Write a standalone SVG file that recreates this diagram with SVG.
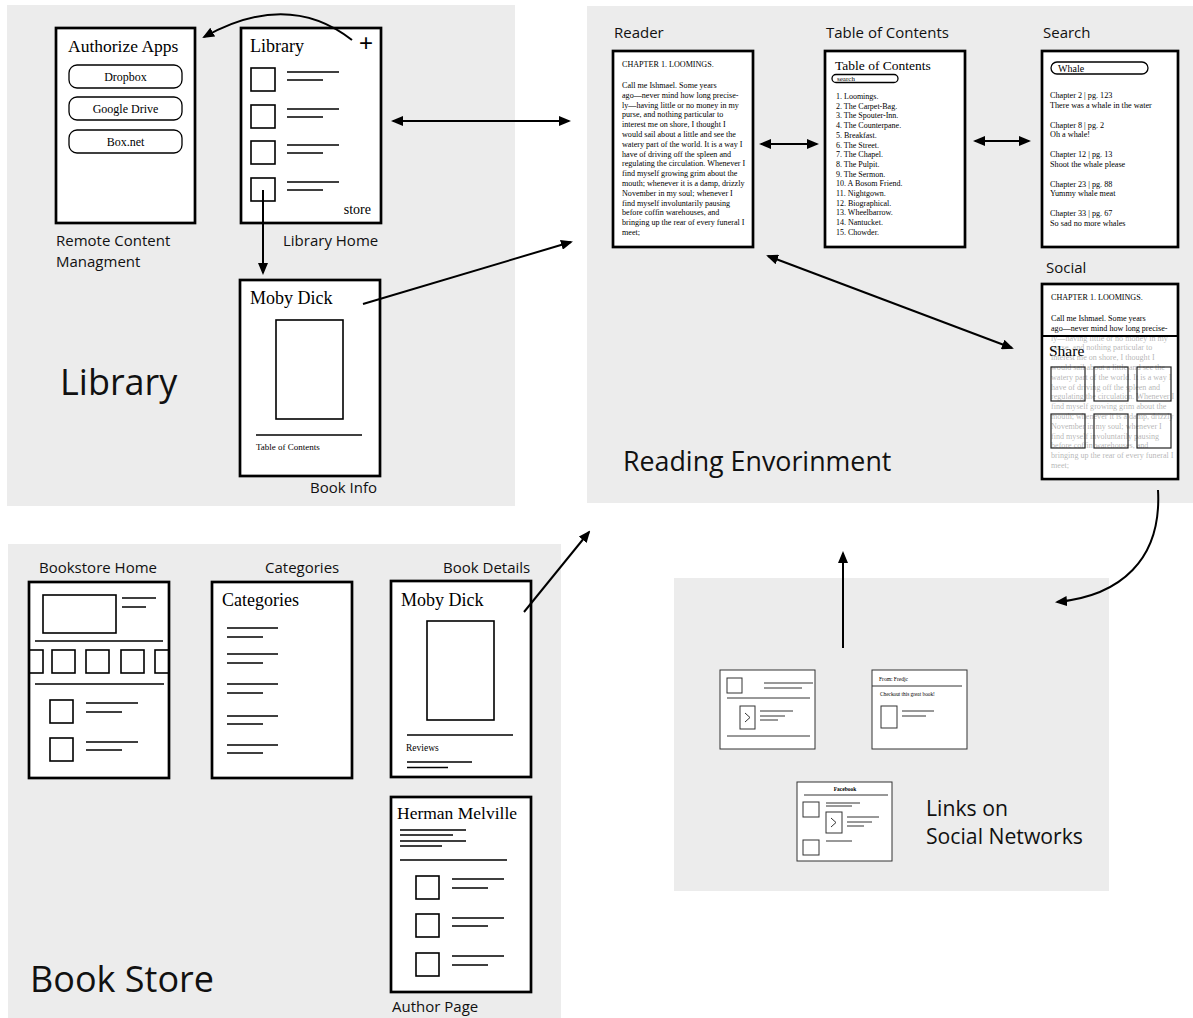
<svg xmlns="http://www.w3.org/2000/svg" xmlns:xlink="http://www.w3.org/1999/xlink" width="1193" height="1018" viewBox="0 0 1193 1018">
<style>
.panel{fill:#ececec}
.box{fill:#fff;stroke:#000;stroke-width:2.7}
.ln{stroke:#000;stroke-width:1.6;fill:none}
.sq{fill:none;stroke:#000;stroke-width:1.6}
.card{fill:#fff;stroke:#333;stroke-width:1}
.cl{stroke:#333;stroke-width:1;fill:none}
.pill{fill:#fff;stroke:#000;stroke-width:1.3}
.lbl{font-family:"Open Sans","Noto Sans",sans-serif;font-size:15px;fill:#111}
.big{font-family:"Open Sans","Noto Sans",sans-serif;fill:#111}
.sf{font-family:"Liberation Serif",serif;fill:#000}
.conn{stroke:#000;stroke-width:2;fill:none}
</style>
<defs>
<marker id="ah" markerWidth="12" markerHeight="10" refX="10" refY="5" orient="auto-start-reverse" markerUnits="userSpaceOnUse">
<path d="M0,0 L12,5 L0,10 z" fill="#000"/>
</marker>
<g id="para" class="sf" font-size="8.1">
<text x="0" y="0">CHAPTER 1. LOOMINGS.</text>
<text x="0" y="21">Call me Ishmael. Some years</text>
<text x="0" y="30.8">ago—never mind how long precise-</text>
<text x="0" y="40.6">ly—having little or no money in my</text>
<text x="0" y="50.4">purse, and nothing particular to</text>
<text x="0" y="60.2">interest me on shore, I thought I</text>
<text x="0" y="70">would sail about a little and see the</text>
<text x="0" y="79.8">watery part of the world. It is a way I</text>
<text x="0" y="89.6">have of driving off the spleen and</text>
<text x="0" y="99.4">regulating the circulation. Whenever I</text>
<text x="0" y="109.2">find myself growing grim about the</text>
<text x="0" y="119">mouth; whenever it is a damp, drizzly</text>
<text x="0" y="128.8">November in my soul; whenever I</text>
<text x="0" y="138.6">find myself involuntarily pausing</text>
<text x="0" y="148.4">before coffin warehouses, and</text>
<text x="0" y="158.2">bringing up the rear of every funeral I</text>
<text x="0" y="168">meet;</text>
</g>
</defs>

<rect width="1193" height="1018" fill="#fff"/>

<!-- panels -->
<g id="panel-library"><rect class="panel" x="7" y="5" width="508" height="501"/>
<text class="big" x="60" y="395" font-size="36">Library</text></g>
<g id="panel-reading"><rect class="panel" x="587" y="6" width="606" height="497"/>
<text class="big" x="623" y="471" font-size="26.8">Reading Envorinment</text></g>
<g id="panel-bookstore"><rect class="panel" x="8" y="544" width="553" height="474"/>
<text class="big" x="30" y="992" font-size="36">Book Store</text></g>
<g id="panel-social"><rect class="panel" x="674" y="578" width="435" height="313"/>
<text class="big" x="926" y="816" font-size="21.2">Links on</text>
<text class="big" x="926" y="844" font-size="21.2">Social Networks</text></g>

<!-- Authorize Apps -->
<g id="authorize-apps">
<rect class="box" x="56" y="28" width="139" height="195"/>
<text class="sf" x="68" y="52" font-size="17.5">Authorize Apps</text>
<rect class="pill" x="69" y="65" width="113" height="23" rx="8"/>
<text class="sf" x="125.5" y="81" font-size="12" text-anchor="middle">Dropbox</text>
<rect class="pill" x="69" y="97" width="113" height="23" rx="8"/>
<text class="sf" x="125.5" y="113" font-size="12" text-anchor="middle">Google Drive</text>
<rect class="pill" x="69" y="130" width="113" height="23" rx="8"/>
<text class="sf" x="125.5" y="146" font-size="12" text-anchor="middle">Box.net</text>
<text class="lbl" x="56" y="246">Remote Content</text>
<text class="lbl" x="56" y="267">Managment</text>
</g>

<!-- Library Home -->
<g id="library-home">
<rect class="box" x="241" y="28" width="140" height="195"/>
<text class="sf" x="250" y="52" font-size="18">Library</text>
<text x="366" y="51" font-family="Liberation Sans,sans-serif" font-size="24" text-anchor="middle">+</text>
<rect class="sq" x="251" y="68" width="24" height="23"/>
<path class="ln" d="M287,72H339M287,80H323"/>
<rect class="sq" x="251" y="105" width="24" height="23"/>
<path class="ln" d="M287,109H339M287,117H323"/>
<rect class="sq" x="251" y="141" width="24" height="23"/>
<path class="ln" d="M287,145H339M287,153H323"/>
<rect class="sq" x="251" y="178" width="24" height="23"/>
<path class="ln" d="M287,182H339M287,190H323"/>
<text class="sf" x="371" y="214" font-size="14" text-anchor="end">store</text>
<text class="lbl" x="283" y="246">Library Home</text>
</g>

<!-- Book Info -->
<g id="book-info">
<rect class="box" x="240" y="280" width="140" height="196"/>
<text class="sf" x="250" y="304" font-size="18">Moby Dick</text>
<rect class="sq" x="276" y="320" width="67" height="99"/>
<path class="ln" d="M256,435H362"/>
<text class="sf" x="256" y="450" font-size="9">Table of Contents</text>
<text class="lbl" x="310" y="493">Book Info</text>
</g>

<!-- Reader -->
<g id="reader">
<text class="lbl" x="614" y="38">Reader</text>
<rect class="box" x="613" y="51" width="140" height="196"/>
<use xlink:href="#para" x="622" y="67"/>
</g>

<!-- TOC -->
<g id="toc">
<text class="lbl" x="826" y="38">Table of Contents</text>
<rect class="box" x="825" y="51" width="140" height="196"/>
<text class="sf" x="835" y="70" font-size="13.5">Table of Contents</text>
<rect class="pill" x="832" y="74.5" width="66" height="8" rx="4"/>
<text class="sf" x="837" y="81" font-size="7">search</text>
<g class="sf" font-size="8">
<text x="836" y="99">1. Loomings.</text>
<text x="836" y="108.7">2. The Carpet-Bag.</text>
<text x="836" y="118.4">3. The Spouter-Inn.</text>
<text x="836" y="128.1">4. The Counterpane.</text>
<text x="836" y="137.8">5. Breakfast.</text>
<text x="836" y="147.5">6. The Street.</text>
<text x="836" y="157.2">7. The Chapel.</text>
<text x="836" y="166.9">8. The Pulpit.</text>
<text x="836" y="176.6">9. The Sermon.</text>
<text x="836" y="186.3">10. A Bosom Friend.</text>
<text x="836" y="196">11. Nightgown.</text>
<text x="836" y="205.7">12. Biographical.</text>
<text x="836" y="215.4">13. Wheelbarrow.</text>
<text x="836" y="225.1">14. Nantucket.</text>
<text x="836" y="234.8">15. Chowder.</text>
</g>
</g>

<!-- Search -->
<g id="search">
<text class="lbl" x="1043" y="38">Search</text>
<rect class="box" x="1042" y="51" width="136" height="196"/>
<rect class="pill" x="1051" y="62" width="97" height="12" rx="6"/>
<text class="sf" x="1058" y="72" font-size="10">Whale</text>
<g class="sf" font-size="8.2">
<text x="1050" y="98">Chapter 2 | pg. 123</text>
<text x="1050" y="107.5">There was a whale in the water</text>
<text x="1050" y="127.5">Chapter 8 | pg. 2</text>
<text x="1050" y="137">Oh a whale!</text>
<text x="1050" y="157">Chapter 12 | pg. 13</text>
<text x="1050" y="166.5">Shoot the whale please</text>
<text x="1050" y="186.5">Chapter 23 | pg. 88</text>
<text x="1050" y="196">Yummy whale meat</text>
<text x="1050" y="216">Chapter 33 | pg. 67</text>
<text x="1050" y="225.5">So sad no more whales</text>
</g>
</g>

<!-- Social -->
<g id="social">
<text class="lbl" x="1046" y="273">Social</text>
<rect class="box" x="1042" y="284" width="136" height="195"/>
<use xlink:href="#para" x="1051" y="300"/>
<rect x="1043.5" y="337" width="133" height="140.5" fill="#fff" fill-opacity="0.7"/>
<path d="M1042,336H1178" stroke="#000" stroke-width="2"/>
<text class="sf" x="1049" y="356" font-size="15.5">Share</text>
<g fill="none" stroke="#222" stroke-width="1.2">
<rect x="1051" y="367" width="34" height="34"/>
<rect x="1094" y="367" width="34" height="34"/>
<rect x="1137" y="367" width="34" height="34"/>
<rect x="1051" y="414" width="34" height="34"/>
<rect x="1094" y="414" width="34" height="34"/>
<rect x="1137" y="414" width="34" height="34"/>
</g>
</g>

<!-- Bookstore Home -->
<g id="bookstore-home">
<text class="lbl" x="39" y="573">Bookstore Home</text>
<rect class="box" x="29" y="582" width="140" height="196"/>
<rect class="sq" x="43" y="595" width="73" height="38"/>
<path class="ln" d="M122,598H156M122,607H146M35,641H163M35,684H164"/>
<rect class="sq" x="29" y="650" width="14" height="23"/>
<rect class="sq" x="52" y="650" width="23" height="23"/>
<rect class="sq" x="86" y="650" width="23" height="23"/>
<rect class="sq" x="121" y="650" width="23" height="23"/>
<rect class="sq" x="155" y="650" width="14" height="23"/>
<rect class="sq" x="50" y="700" width="23" height="23"/>
<path class="ln" d="M86,703H138M86,712H122"/>
<rect class="sq" x="50" y="738" width="23" height="23"/>
<path class="ln" d="M86,742H138M86,750H122"/>
</g>

<!-- Categories -->
<g id="categories">
<text class="lbl" x="265" y="573">Categories</text>
<rect class="box" x="212" y="582" width="140" height="196"/>
<text class="sf" x="222" y="606" font-size="18">Categories</text>
<path class="ln" d="M227,628H278M227,637H263M227,654H278M227,663H263M227,684H278M227,693H263M227,716H278M227,724H263M227,745H278M227,753H263"/>
</g>

<!-- Book Details -->
<g id="book-details">
<text class="lbl" x="443" y="573">Book Details</text>
<rect class="box" x="391" y="581" width="140" height="196"/>
<text class="sf" x="401" y="606" font-size="18">Moby Dick</text>
<rect class="sq" x="427" y="621" width="67" height="99"/>
<path class="ln" d="M407,735H513"/>
<text class="sf" x="406" y="751" font-size="9.5">Reviews</text>
<path class="ln" d="M407,762H472M407,767.5H448"/>
</g>

<!-- Author Page -->
<g id="author-page">
<rect class="box" x="391" y="797" width="140" height="195"/>
<text class="sf" x="397" y="819" font-size="17.5">Herman Melville</text>
<path class="ln" d="M400,830H466M400,835H453M400,841H466M400,846H442M400,860H507"/>
<rect class="sq" x="416" y="876" width="23" height="23"/>
<path class="ln" d="M452,879H504M452,888H488"/>
<rect class="sq" x="416" y="914" width="23" height="23"/>
<path class="ln" d="M452,918H504M452,926H488"/>
<rect class="sq" x="416" y="953" width="23" height="23"/>
<path class="ln" d="M452,956H504M452,965H488"/>
<text class="lbl" x="392" y="1012">Author Page</text>
</g>

<!-- Social network cards -->
<g id="card-1">
<rect class="card" x="720" y="670" width="95" height="79"/>
<rect class="cl" x="727" y="678" width="15" height="15"/>
<path class="cl" d="M764,683H813M764,688H802M727,698H810"/>
<rect class="cl" x="740" y="706" width="15" height="23"/>
<path class="cl" d="M745,713L750,717.5L745,722"/>
<path class="cl" d="M760,711H793M760,716H785M760,720H778M727,736H810"/>
</g>
<g id="card-2">
<rect class="card" x="872" y="670" width="95" height="79"/>
<text class="sf" x="879" y="681" font-size="5.5">From: Fredjc</text>
<path class="cl" d="M872,686H962"/>
<text class="sf" x="880" y="695.5" font-size="5.3">Checkout this great book!</text>
<rect class="cl" x="881" y="706" width="16" height="22"/>
<path class="cl" d="M902,711H934M902,716H926"/>
</g>
<g id="card-3">
<rect class="card" x="797" y="782" width="95" height="79"/>
<text class="sf" x="845" y="791" font-size="5.5" font-weight="bold" text-anchor="middle">Facebook</text>
<path class="cl" d="M804,795H888"/>
<rect class="cl" x="803" y="802" width="16" height="15"/>
<path class="cl" d="M826,803H860M826,806H852"/>
<rect class="cl" x="826" y="812" width="16" height="21"/>
<path class="cl" d="M831,818L836,822.5L831,827"/>
<path class="cl" d="M847,817H879M847,822H872M847,826H864"/>
<rect class="cl" x="803" y="840" width="16" height="15"/>
<path class="cl" d="M826,841H852"/>
</g>

<!-- connectors -->
<g id="connectors" class="conn">
<path d="M352,40 Q288,-10 204,37" marker-end="url(#ah)"/>
<path d="M263,190 V273" marker-end="url(#ah)"/>
<path d="M393,121 H569" marker-start="url(#ah)" marker-end="url(#ah)"/>
<path d="M363,304 L571,242" marker-end="url(#ah)"/>
<path d="M761,144 H817" marker-start="url(#ah)" marker-end="url(#ah)"/>
<path d="M975,141 H1029" marker-start="url(#ah)" marker-end="url(#ah)"/>
<path d="M768,256 L1012,348" marker-start="url(#ah)" marker-end="url(#ah)"/>
<path d="M524,612 L589,532" marker-end="url(#ah)"/>
<path d="M1158,490 C1162,560 1120,596 1057,602" marker-end="url(#ah)"/>
<path d="M843,648 V553" marker-end="url(#ah)"/>
</g>
</svg>
